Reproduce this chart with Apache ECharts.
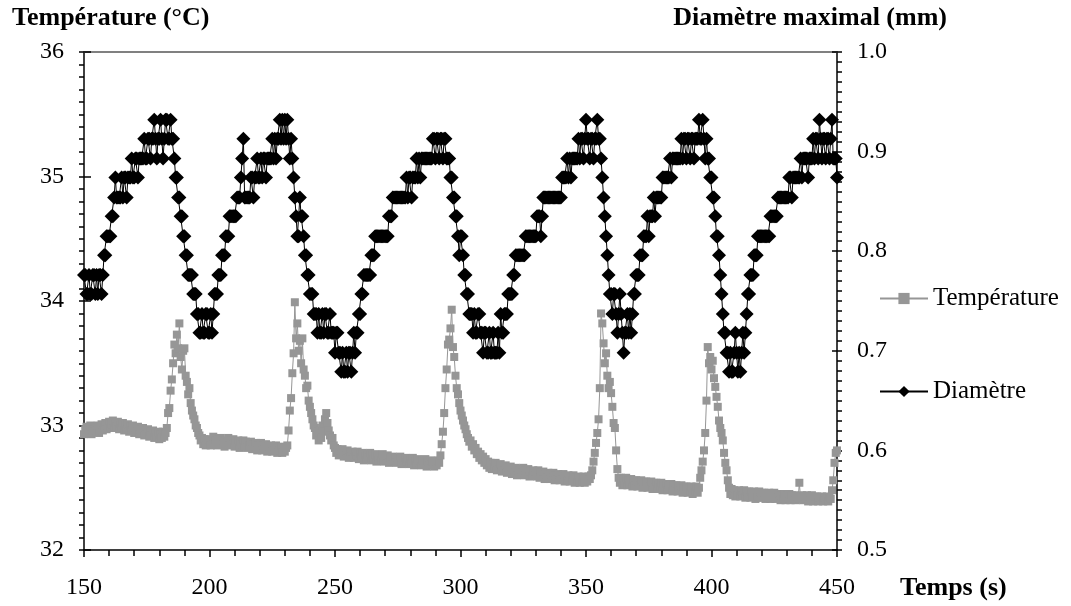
<!DOCTYPE html>
<html>
<head>
<meta charset="utf-8">
<script src="https://cdn.jsdelivr.net/npm/echarts@6/dist/echarts.min.js"></script>
<style>
html,body{margin:0;padding:0;background:#fff;}
#chart{width:1071px;height:606px;}
</style>
</head>
<body>
<div id="chart"></div>
<script>
// Sampling: two readings per second from t = 150 s to t = 450 s
const timeStart = 150;
const timeStep = 0.5;

const xTicks = [150, 200, 250, 300, 350, 400, 450];
const leftTicks = [32, 33, 34, 35, 36];
const rightTicks = ['0.5', '0.6', '0.7', '0.8', '0.9', '1.0'];

const seriesNames = ['Température', 'Diamètre'];

// Température (°C), one row = 5 s
const temperature = [
32.93,32.97,32.99,32.94,32.96,33.00,32.93,32.97,32.95,32.99,
32.96,33.00,32.94,32.98,33.01,32.96,32.99,33.02,32.97,33.00,
33.03,32.98,33.01,33.04,32.98,33.02,32.99,33.03,32.97,33.01,
32.98,33.02,32.96,33.00,32.97,33.01,32.95,32.99,32.96,33.00,
32.94,32.98,32.95,32.99,32.93,32.97,32.94,32.98,32.92,32.96,
32.93,32.97,32.91,32.95,32.92,32.96,32.90,32.94,32.91,32.95,
32.89,32.93,32.90,32.95,32.91,32.94,32.98,33.10,33.14,33.28,
33.37,33.50,33.65,33.58,33.73,33.62,33.82,33.55,33.45,33.60,
33.62,33.40,33.35,33.25,33.30,33.18,33.12,33.08,33.05,33.00,
32.98,32.94,32.92,32.88,32.90,32.85,32.89,32.84,32.88,32.85,
32.89,32.84,32.87,32.91,32.85,32.88,32.84,32.89,32.86,32.90,
32.85,32.88,32.83,32.87,32.86,32.90,32.84,32.88,32.85,32.89,
32.83,32.87,32.84,32.88,32.82,32.86,32.85,32.88,32.83,32.87,
32.82,32.86,32.84,32.87,32.81,32.85,32.83,32.86,32.80,32.84,
32.82,32.86,32.80,32.84,32.81,32.85,32.79,32.83,32.81,32.84,
32.79,32.83,32.80,32.84,32.78,32.82,32.80,32.83,32.78,32.82,
32.79,32.82,32.84,32.96,33.12,33.22,33.42,33.58,33.99,33.70,
33.82,33.60,33.68,33.50,33.70,33.45,33.40,33.30,33.32,33.20,
33.15,33.10,33.05,33.00,32.98,32.92,32.95,32.88,32.96,32.90,
33.00,32.95,33.05,33.10,33.02,32.96,32.92,32.88,32.90,32.84,
32.82,32.78,32.81,32.76,32.80,32.77,32.81,32.75,32.79,32.76,
32.80,32.74,32.78,32.75,32.79,32.74,32.78,32.76,32.79,32.73,
32.77,32.74,32.78,32.72,32.76,32.73,32.77,32.74,32.78,32.72,
32.76,32.73,32.77,32.71,32.75,32.72,32.76,32.73,32.77,32.71,
32.75,32.72,32.76,32.70,32.74,32.71,32.75,32.72,32.74,32.70,
32.74,32.71,32.75,32.69,32.73,32.70,32.74,32.71,32.73,32.69,
32.73,32.70,32.74,32.68,32.72,32.69,32.73,32.70,32.72,32.68,
32.72,32.69,32.73,32.67,32.71,32.68,32.72,32.69,32.71,32.67,
32.71,32.68,32.72,32.70,32.76,32.85,32.95,33.10,33.30,33.45,
33.65,33.69,33.78,33.93,33.63,33.55,33.40,33.30,33.25,33.18,
33.12,33.08,33.04,33.00,32.97,32.93,32.90,32.87,32.88,32.83,
32.85,32.80,32.82,32.77,32.79,32.74,32.77,32.72,32.75,32.70,
32.73,32.68,32.71,32.66,32.70,32.65,32.69,32.66,32.70,32.64,
32.68,32.65,32.69,32.63,32.67,32.64,32.68,32.62,32.66,32.63,
32.67,32.61,32.65,32.62,32.66,32.60,32.64,32.61,32.65,32.62,
32.66,32.60,32.64,32.61,32.65,32.59,32.63,32.60,32.64,32.60,
32.63,32.59,32.64,32.58,32.62,32.59,32.63,32.57,32.61,32.58,
32.62,32.57,32.61,32.58,32.62,32.56,32.60,32.57,32.61,32.56,
32.60,32.57,32.61,32.55,32.59,32.56,32.60,32.55,32.59,32.56,
32.60,32.54,32.58,32.55,32.59,32.54,32.58,32.55,32.59,32.54,
32.58,32.55,32.59,32.57,32.60,32.64,32.71,32.78,32.86,32.94,
33.05,33.30,33.90,33.82,33.66,33.50,33.58,33.40,33.30,33.35,
33.26,33.15,33.02,32.98,32.80,32.65,32.58,32.54,32.58,32.52,
32.57,32.53,32.58,32.52,32.56,32.53,32.57,32.51,32.56,32.52,
32.56,32.51,32.55,32.52,32.56,32.50,32.55,32.51,32.55,32.50,
32.54,32.51,32.55,32.49,32.54,32.50,32.54,32.49,32.53,32.50,
32.54,32.48,32.53,32.49,32.53,32.48,32.52,32.49,32.53,32.47,
32.52,32.48,32.52,32.47,32.51,32.48,32.52,32.46,32.51,32.47,
32.51,32.46,32.50,32.47,32.51,32.45,32.50,32.47,32.51,32.46,
32.50,32.58,32.64,32.71,32.80,32.94,33.20,33.63,33.50,33.55,
33.45,33.52,33.38,33.31,33.23,33.15,33.04,32.98,32.94,32.88,
32.78,32.70,32.64,32.56,32.50,32.45,32.49,32.44,32.48,32.43,
32.47,32.44,32.48,32.43,32.47,32.44,32.48,32.42,32.47,32.43,
32.47,32.42,32.46,32.43,32.47,32.41,32.46,32.43,32.47,32.42,
32.46,32.42,32.46,32.41,32.45,32.42,32.46,32.41,32.45,32.42,
32.46,32.41,32.45,32.42,32.45,32.40,32.44,32.41,32.45,32.40,
32.44,32.41,32.45,32.40,32.44,32.41,32.44,32.40,32.43,32.41,
32.54,32.41,32.44,32.40,32.43,32.41,32.44,32.39,32.43,32.40,
32.44,32.39,32.43,32.40,32.43,32.39,32.42,32.40,32.43,32.39,
32.42,32.40,32.43,32.39,32.42,32.41,32.48,32.56,32.70,32.78,
32.80
];

// Diamètre maximal (mm), one row = 5 s
const diameter = [
0.776,0.776,0.757,0.757,0.776,0.757,0.757,0.776,0.776,0.757,
0.776,0.757,0.776,0.776,0.757,0.776,0.796,0.796,0.815,0.815,
0.815,0.815,0.835,0.835,0.854,0.874,0.854,0.854,0.854,0.854,
0.874,0.854,0.874,0.874,0.854,0.874,0.874,0.874,0.893,0.874,
0.874,0.893,0.893,0.874,0.893,0.893,0.893,0.893,0.913,0.893,
0.893,0.913,0.913,0.893,0.913,0.913,0.932,0.913,0.893,0.913,
0.913,0.932,0.913,0.893,0.913,0.932,0.932,0.913,0.913,0.932,
0.913,0.913,0.893,0.874,0.874,0.854,0.854,0.835,0.835,0.815,
0.815,0.796,0.796,0.776,0.776,0.776,0.776,0.757,0.757,0.757,
0.737,0.737,0.718,0.718,0.737,0.718,0.718,0.737,0.737,0.718,
0.718,0.737,0.718,0.737,0.757,0.757,0.757,0.776,0.776,0.776,
0.796,0.796,0.796,0.815,0.815,0.815,0.835,0.835,0.835,0.835,
0.835,0.835,0.854,0.854,0.854,0.874,0.893,0.913,0.854,0.854,
0.854,0.854,0.854,0.874,0.874,0.854,0.874,0.874,0.893,0.874,
0.874,0.893,0.874,0.893,0.893,0.874,0.893,0.893,0.893,0.893,
0.913,0.893,0.913,0.893,0.913,0.913,0.932,0.913,0.932,0.913,
0.932,0.913,0.932,0.913,0.893,0.913,0.893,0.874,0.854,0.835,
0.815,0.815,0.854,0.835,0.835,0.815,0.796,0.796,0.776,0.776,
0.757,0.757,0.757,0.737,0.737,0.737,0.718,0.737,0.718,0.718,
0.737,0.718,0.737,0.737,0.718,0.718,0.737,0.718,0.718,0.718,
0.698,0.718,0.718,0.698,0.698,0.679,0.698,0.679,0.679,0.698,
0.679,0.698,0.698,0.679,0.698,0.718,0.698,0.718,0.718,0.737,
0.737,0.757,0.757,0.776,0.776,0.776,0.776,0.776,0.776,0.796,
0.796,0.796,0.815,0.815,0.815,0.815,0.815,0.815,0.815,0.815,
0.815,0.815,0.815,0.835,0.835,0.835,0.854,0.854,0.854,0.854,
0.854,0.854,0.854,0.854,0.854,0.854,0.854,0.874,0.854,0.874,
0.874,0.854,0.874,0.874,0.874,0.893,0.874,0.893,0.874,0.893,
0.893,0.893,0.893,0.893,0.893,0.893,0.893,0.893,0.913,0.913,
0.893,0.913,0.913,0.893,0.913,0.913,0.893,0.913,0.913,0.893,
0.893,0.893,0.874,0.874,0.854,0.854,0.835,0.835,0.815,0.796,
0.815,0.815,0.796,0.776,0.776,0.757,0.757,0.737,0.737,0.737,
0.718,0.737,0.718,0.718,0.737,0.737,0.718,0.718,0.698,0.718,
0.718,0.698,0.698,0.718,0.698,0.698,0.718,0.698,0.698,0.698,
0.718,0.698,0.737,0.718,0.718,0.737,0.737,0.737,0.757,0.757,
0.757,0.757,0.776,0.776,0.796,0.796,0.796,0.796,0.796,0.796,
0.796,0.796,0.815,0.815,0.815,0.815,0.815,0.815,0.815,0.815,
0.815,0.835,0.835,0.835,0.815,0.835,0.854,0.854,0.854,0.854,
0.854,0.854,0.854,0.854,0.854,0.854,0.854,0.854,0.854,0.854,
0.854,0.874,0.874,0.874,0.874,0.893,0.874,0.893,0.874,0.893,
0.893,0.893,0.893,0.893,0.913,0.893,0.913,0.913,0.893,0.913,
0.932,0.913,0.913,0.893,0.913,0.913,0.893,0.913,0.913,0.932,
0.913,0.913,0.893,0.874,0.854,0.835,0.815,0.796,0.776,0.757,
0.757,0.737,0.757,0.757,0.737,0.718,0.737,0.757,0.737,0.718,
0.698,0.718,0.718,0.737,0.718,0.737,0.718,0.737,0.757,0.757,
0.776,0.776,0.776,0.796,0.796,0.796,0.815,0.815,0.815,0.835,
0.815,0.835,0.835,0.835,0.854,0.835,0.854,0.854,0.854,0.854,
0.854,0.874,0.874,0.874,0.874,0.874,0.874,0.893,0.874,0.893,
0.893,0.893,0.893,0.893,0.893,0.893,0.913,0.893,0.913,0.913,
0.893,0.913,0.913,0.893,0.913,0.913,0.893,0.913,0.913,0.913,
0.932,0.913,0.913,0.932,0.913,0.893,0.913,0.893,0.893,0.874,
0.874,0.854,0.854,0.835,0.815,0.815,0.796,0.776,0.757,0.737,
0.718,0.718,0.698,0.698,0.679,0.698,0.679,0.679,0.698,0.718,
0.698,0.679,0.698,0.679,0.698,0.718,0.698,0.718,0.737,0.757,
0.757,0.776,0.776,0.776,0.796,0.796,0.796,0.815,0.815,0.815,
0.815,0.815,0.815,0.815,0.815,0.815,0.815,0.835,0.835,0.835,
0.835,0.835,0.835,0.854,0.854,0.854,0.854,0.854,0.854,0.854,
0.854,0.854,0.874,0.874,0.854,0.874,0.874,0.874,0.874,0.874,
0.874,0.893,0.874,0.893,0.893,0.893,0.893,0.874,0.893,0.893,
0.893,0.913,0.893,0.913,0.913,0.893,0.932,0.913,0.893,0.913,
0.913,0.893,0.913,0.913,0.893,0.913,0.932,0.893,0.893,0.893,
0.874
];

const FONT = '"Liberation Serif", "Times New Roman", serif';
const toPairs = arr => arr.map((v, i) => [timeStart + i * timeStep, v]);

const chart = echarts.init(document.getElementById('chart'), null, {renderer: 'canvas'});

const axisLabelStyle = {fontFamily: FONT, fontSize: 24, color: '#000'};
const blackLine = {color: '#000', width: 1.5};

chart.setOption({
  animation: false,
  backgroundColor: '#fff',
  grid: {left: 84, right: 234, top: 52, bottom: 56, containLabel: false},
  legend: {
    orient: 'vertical',
    left: 874,
    top: 281,
    itemWidth: 48,
    itemHeight: 14,
    itemGap: 68,
    data: seriesNames,
    textStyle: {fontFamily: FONT, fontSize: 25, color: '#000'}
  },
  graphic: [
    {type: 'text', left: 12, top: 5, style: {text: 'Température (°C)', font: 'bold 26px ' + FONT, fill: '#000'}},
    {type: 'text', right: 1071 - 947, top: 5, style: {text: 'Diamètre maximal (mm)', font: 'bold 26px ' + FONT, fill: '#000'}},
    {type: 'text', left: 900, top: 575, style: {text: 'Temps (s)', font: 'bold 26px ' + FONT, fill: '#000'}}
  ],
  xAxis: [
    {
      type: 'value', position: 'bottom', min: xTicks[0], max: xTicks[xTicks.length - 1], interval: 50,
      axisLine: {show: true, onZero: false, lineStyle: blackLine},
      axisTick: {show: true, inside: false, length: 7, lineStyle: blackLine},
      minorTick: {show: true, splitNumber: 5, length: 6, lineStyle: blackLine},
      axisLabel: Object.assign({margin: 26, formatter: v => xTicks.includes(v) ? String(v) : ''}, axisLabelStyle),
      splitLine: {show: false}
    },
    {
      type: 'value', position: 'top', min: xTicks[0], max: xTicks[xTicks.length - 1],
      axisLine: {show: true, onZero: false, lineStyle: {color: '#808080', width: 2}},
      axisTick: {show: false}, axisLabel: {show: false}, splitLine: {show: false}
    }
  ],
  yAxis: [
    {
      type: 'value', position: 'left', min: leftTicks[0], max: leftTicks[leftTicks.length - 1], interval: 1,
      axisLine: {show: true, onZero: false, lineStyle: blackLine},
      axisTick: {show: true, inside: false, length: 5, lineStyle: blackLine},
      minorTick: {show: true, splitNumber: 10, length: 5, lineStyle: blackLine},
      axisLabel: Object.assign({margin: 20, formatter: v => String(v)}, axisLabelStyle),
      splitLine: {show: false}
    },
    {
      type: 'value', position: 'right', min: 0.5, max: 1.0, interval: 0.1,
      axisLine: {show: true, onZero: false, lineStyle: blackLine},
      axisTick: {show: true, inside: false, length: 5, lineStyle: blackLine},
      minorTick: {show: true, splitNumber: 10, length: 5, lineStyle: blackLine},
      axisLabel: Object.assign({margin: 20, formatter: v => {
        const s = v.toFixed(1);
        return rightTicks.includes(s) ? s : '';
      }}, axisLabelStyle),
      splitLine: {show: false}
    },
    {
      type: 'value', position: 'left', min: leftTicks[0], max: leftTicks[leftTicks.length - 1], interval: 1,
      axisLine: {show: false}, axisLabel: {show: false}, splitLine: {show: false},
      axisTick: {show: true, inside: true, length: 7, lineStyle: blackLine}
    },
    {
      type: 'value', position: 'right', min: 0.5, max: 1.0, interval: 0.1,
      axisLine: {show: false}, axisLabel: {show: false}, splitLine: {show: false},
      axisTick: {show: true, inside: true, length: 5, lineStyle: blackLine}
    }
  ],
  series: [
    {
      name: seriesNames[0], type: 'line', xAxisIndex: 0, yAxisIndex: 0,
      data: toPairs(temperature),
      showAllSymbol: true, symbol: 'rect', symbolSize: 8,
      lineStyle: {color: '#969696', width: 1},
      itemStyle: {color: '#969696'},
      z: 2
    },
    {
      name: seriesNames[1], type: 'line', xAxisIndex: 0, yAxisIndex: 1,
      data: toPairs(diameter),
      showAllSymbol: true, symbol: 'diamond', symbolSize: [14, 14],
      lineStyle: {color: '#000', width: 1},
      itemStyle: {color: '#000'},
      z: 3
    }
  ]
});
</script>
</body>
</html>
